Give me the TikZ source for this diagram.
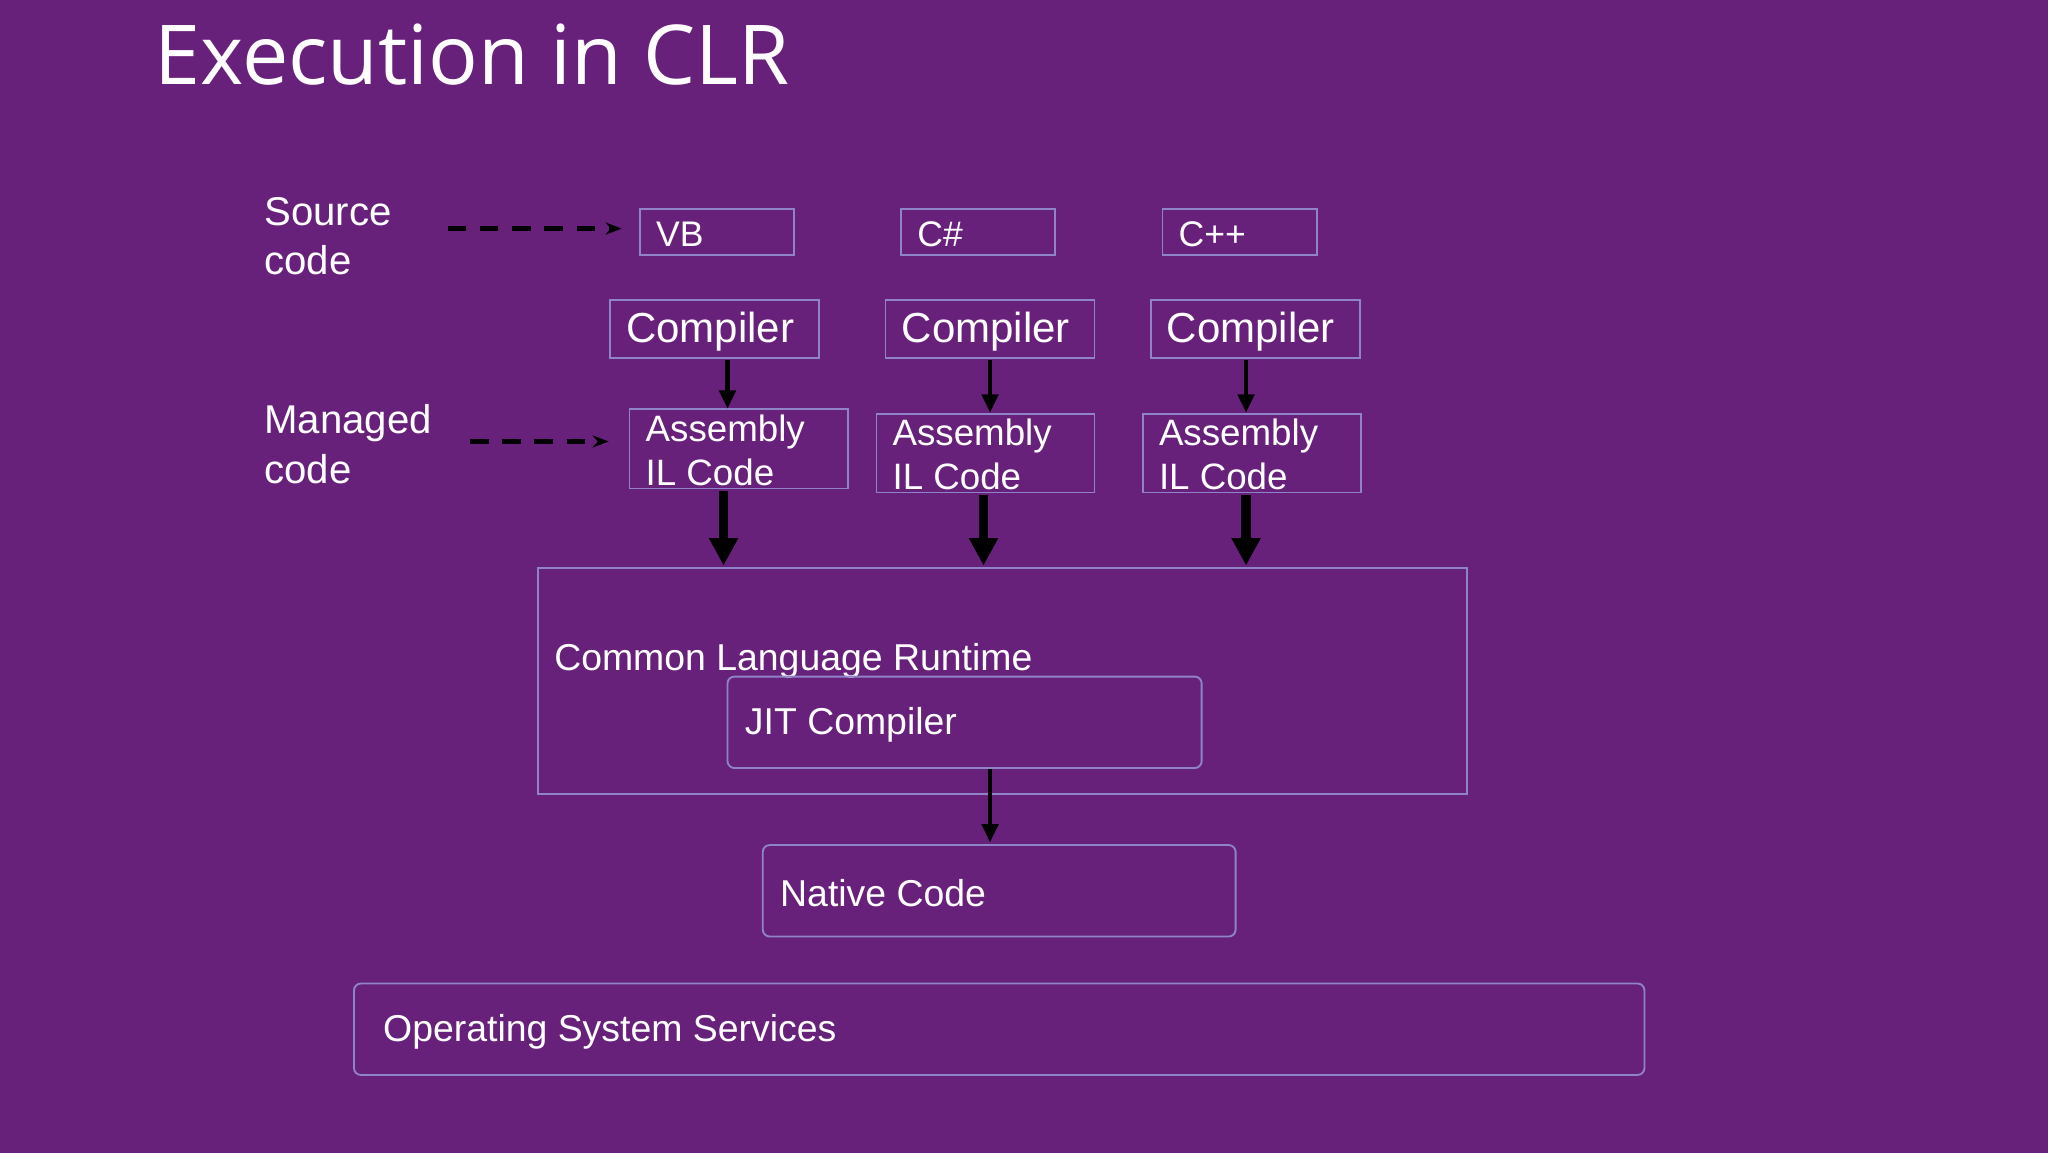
\documentclass[tikz,border=0pt]{standalone}
\usepackage{fontspec}
\setmainfont{Liberation Sans}
\newfontfamily\titlefont{Open Sans}
\usetikzlibrary{arrows.meta}
\definecolor{bg}{HTML}{68217A}
\definecolor{bd}{HTML}{8F84C8}
\begin{document}
\begin{tikzpicture}[x=0.02cm,y=-0.02cm,
 box/.style={draw=bd,line width=0.8pt},
 rbox/.style={draw=bd,line width=0.8pt,rounded corners=3pt},
 lbl/.style={text=white,anchor=west,inner sep=0pt,align=left},
 tarr/.style={-{Triangle[length=8pt,width=7pt]},line width=2pt,black},
 karr/.style={-{Triangle[length=12pt,width=12pt]},line width=4pt,black},
 darr/.style={-{Stealth[length=7pt]},dash pattern=on 8pt off 6pt,line width=2.2pt,black}]
\fill[bg] (0,0) rectangle (1568,883);
\useasboundingbox (0,0) rectangle (1568,883);
\node[lbl,font=\titlefont\fontsize{36}{42}\selectfont] (title) at (118,42) {Execution in CLR};
\node[lbl,font=\fontsize{17.5}{21.5}\selectfont] (src) at (202,181) {Source\\code};
\node[lbl,font=\fontsize{17.5}{21.5}\selectfont] (man) at (202,340) {Managed\\code};
\foreach \n/\x/\t in {vb/490/VB,cs/690/C\#,cp/890/C++}{
 \draw[box] (\x,160) rectangle (\x+118,195);
 \node[lbl,font=\fontsize{15.5}{18}\selectfont] (\n) at (\x+12,179) {\t};}
\foreach \n/\x in {c1/467,c2/678,c3/881}{
 \draw[box] (\x,230) rectangle (\x+160,274);
 \node[lbl,font=\fontsize{18.3}{22}\selectfont] (\n) at (\x+12,254) {Compiler};}
\draw[box] (482,313) rectangle (649,374);
\node[lbl,font=\fontsize{16}{19}\selectfont] (a1) at (494,345) {Assembly\\IL Code};
\draw[box] (671,317) rectangle (838,377);
\node[lbl,font=\fontsize{16}{19}\selectfont] (a2) at (683,348) {Assembly\\IL Code};
\draw[box] (875,317) rectangle (1042,377);
\node[lbl,font=\fontsize{16}{19}\selectfont] (a3) at (887,348) {Assembly\\IL Code};
\draw[box] (412,435) rectangle (1123,608);
\node[lbl,font=\fontsize{16.3}{19}\selectfont] (clr) at (424,506) {Common Language Runtime};
\draw[rbox] (557,518) rectangle (920,588);
\node[lbl,font=\fontsize{16.3}{19}\selectfont] (jit) at (570,555) {JIT Compiler};
\draw[rbox] (584,647) rectangle (946,717);
\node[lbl,font=\fontsize{16.3}{19}\selectfont] (nat) at (597,684) {Native Code};
\draw[rbox] (271,753) rectangle (1259,823);
\node[lbl,font=\fontsize{16.3}{19}\selectfont] (os) at (293,790) {Operating System Services};
\coordinate (d1s) at (343,175); \coordinate (d1e) at (476,175);
\coordinate (d2s) at (360,338); \coordinate (d2e) at (466,338);
\draw[darr] (d1s) -- (d1e);
\draw[darr] (d2s) -- (d2e);
\draw[tarr] (557,276) -- (557,313);
\draw[tarr] (758,276) -- (758,316);
\draw[tarr] (954,276) -- (954,316);
\draw[karr] (554,376) -- (554,433);
\draw[karr] (753,379) -- (753,433);
\draw[karr] (954,379) -- (954,433);
\draw[tarr] (758,589) -- (758,645);
\end{tikzpicture}
\end{document}
